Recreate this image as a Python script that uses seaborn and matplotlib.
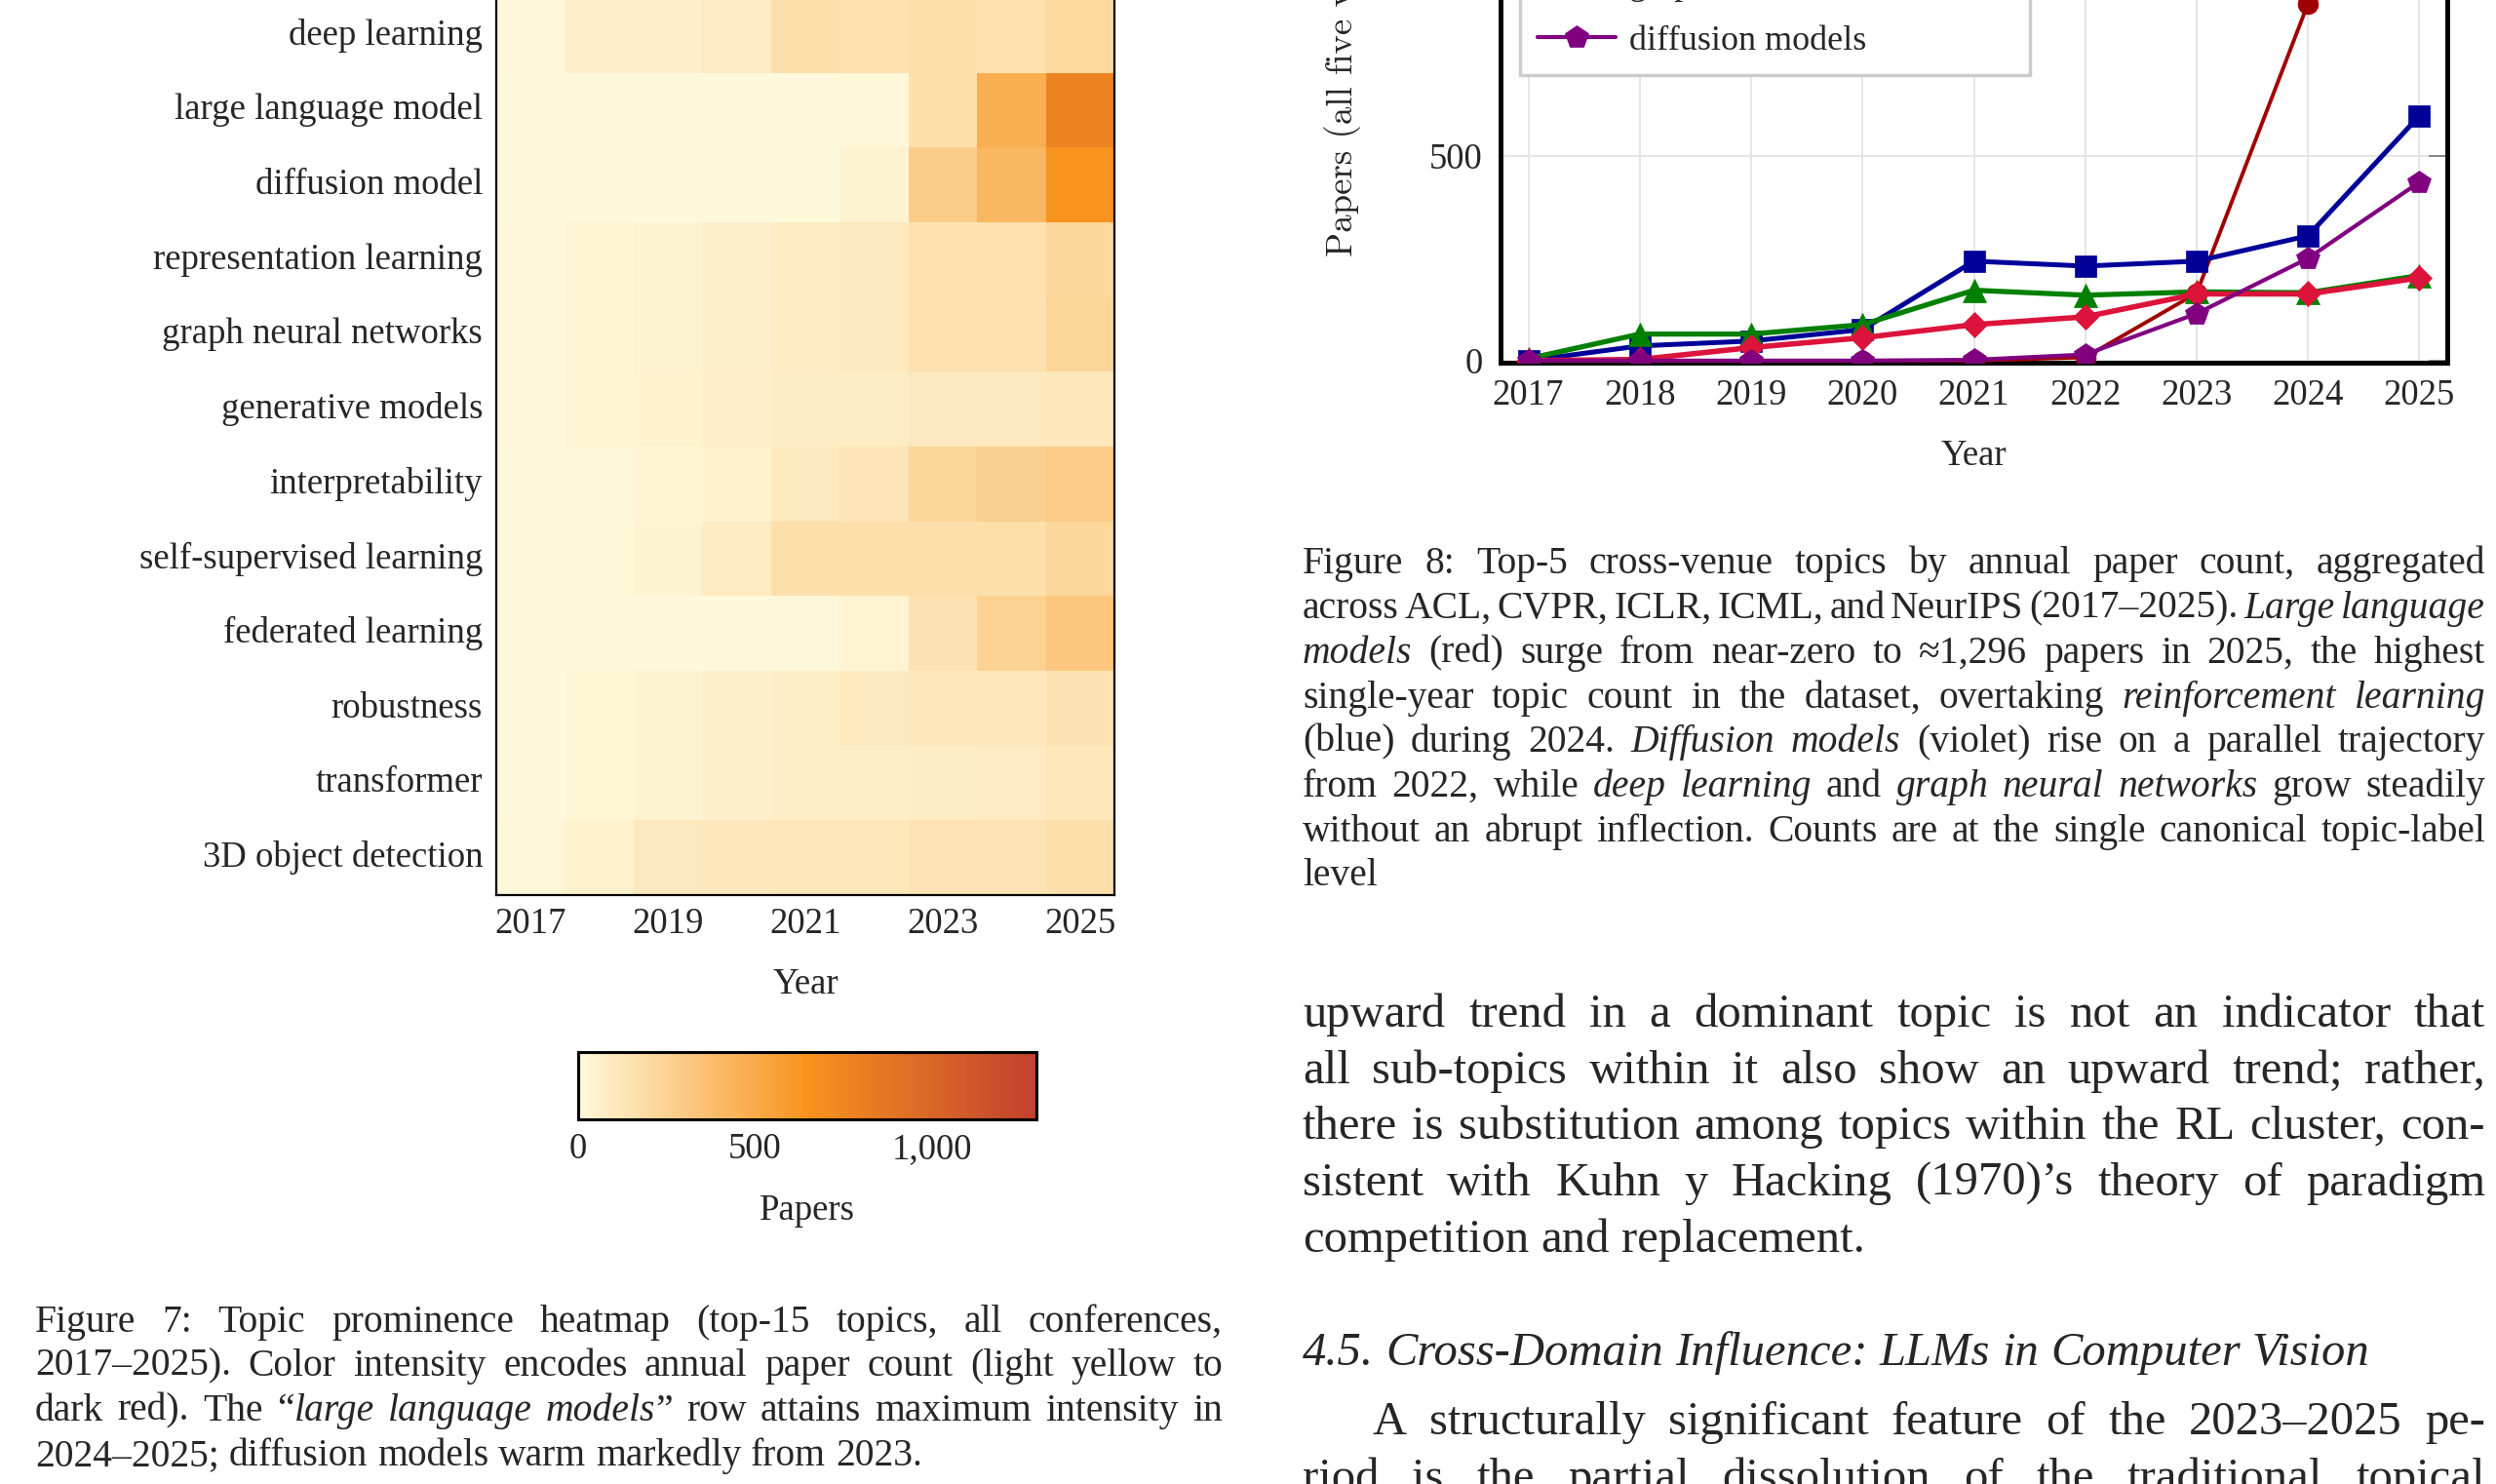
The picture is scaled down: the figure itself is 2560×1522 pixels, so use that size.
import matplotlib
matplotlib.use("Agg")
import numpy as np
import pandas as pd
import matplotlib.pyplot as plt
import seaborn as sns
from matplotlib.colors import LinearSegmentedColormap
from matplotlib.ticker import FuncFormatter

# ---------------- data ----------------
years = list(range(2017, 2026))

topics = ["deep learning", "large language model", "diffusion model",
          "representation learning", "graph neural networks", "generative models",
          "interpretability", "self-supervised learning", "federated learning",
          "robustness", "transformer", "3D object detection"]

hm_deep_learning = [8, 65, 65, 88, 172, 160, 168, 160, 210]
hm_large_language_model = [2, 2, 2, 3, 5, 20, 170, 480, 770]
hm_diffusion_model = [2, 2, 2, 3, 5, 45, 280, 420, 650]
hm_representation_learning = [10, 30, 45, 60, 95, 105, 155, 155, 225]
hm_graph_neural_networks = [8, 30, 45, 60, 95, 105, 155, 155, 232]
hm_generative_models = [8, 30, 50, 65, 85, 85, 105, 105, 120]
hm_interpretability = [5, 20, 28, 50, 105, 130, 230, 260, 290]
hm_self_supervised = [5, 18, 45, 95, 165, 165, 170, 165, 225]
hm_federated_learning = [5, 5, 8, 10, 15, 40, 150, 255, 320]
hm_robustness = [5, 25, 45, 60, 75, 105, 118, 118, 150]
hm_transformer = [5, 25, 45, 60, 75, 75, 85, 90, 115]
hm_3d_object_detection = [20, 55, 105, 120, 125, 125, 140, 140, 170]

cbar_ticks = [0, 500, 1000]

ln_llm = [0, 0, 0, 0, 0, 8, 165, 872, 1296]
ln_rl = [0, 36, 48, 76, 243, 231, 243, 305, 598]
ln_dl = [5, 65, 65, 88, 172, 160, 168, 166, 208]
ln_gnn = [0, 3, 32, 56, 88, 107, 163, 163, 202]
ln_diff = [0, 0, 0, 0, 2, 15, 115, 250, 436]
ln_yticks = [0, 500, 1000]

caption7 = [
    "Figure 7:  Topic prominence heatmap (top-15 topics, all conferences,",
    "2017–2025). Color intensity encodes annual paper count (light yellow to",
    "dark red). The “*large language models*” row attains maximum intensity in",
    "2024–2025; diffusion models warm markedly from 2023.",
]
caption8 = [
    "Figure 8:  Top-5 cross-venue topics by annual paper count, aggregated",
    "across ACL, CVPR, ICLR, ICML, and NeurIPS (2017–2025). *Large language*",
    "*models* (red) surge from near-zero to ≈1,296 papers in 2025, the highest",
    "single-year topic count in the dataset, overtaking *reinforcement learning*",
    "(blue) during 2024. *Diffusion models* (violet) rise on a parallel trajectory",
    "from 2022, while *deep learning* and *graph neural networks* grow steadily",
    "without an abrupt inflection. Counts are at the single canonical topic-label",
    "level",
]
body = [
    "upward trend in a dominant topic is not an indicator that",
    "all sub-topics within it also show an upward trend; rather,",
    "there is substitution among topics within the RL cluster, con-",
    "sistent with Kuhn y Hacking (1970)’s theory of paradigm",
    "competition and replacement.",
]
heading = "4.5.  Cross-Domain Influence: LLMs in Computer Vision"
para = [
    "A structurally significant feature of the 2023–2025 pe-",
    "riod is the partial dissolution of the traditional topical",
]

# ---------------- style ----------------
sns.set_theme(style="white")
SERIF = ["Liberation Serif", "DejaVu Serif"]
plt.rcParams["font.family"] = SERIF
FS = 26.5

W, H = 2560, 1522
fig = plt.figure(figsize=(W / 100, H / 100), dpi=100)
fig.patch.set_facecolor("white")


def fy(py):
    return 1 - py / H


# ---------------- heatmap ----------------
cmap = LinearSegmentedColormap.from_list(
    "pg", [(0.0, "#FFF9DC"), (0.5, "#F7931E"), (1.0, "#C0412F")])
hm = pd.DataFrame([hm_deep_learning, hm_large_language_model, hm_diffusion_model,
                   hm_representation_learning, hm_graph_neural_networks,
                   hm_generative_models, hm_interpretability, hm_self_supervised,
                   hm_federated_learning, hm_robustness, hm_transformer,
                   hm_3d_object_detection], index=topics, columns=years)

ax_hm = fig.add_axes([509 / W, fy(918), 634 / W, 920 / H])
cax = fig.add_axes([593 / W, fy(1148), 470 / W, 69 / H])
sns.heatmap(hm, ax=ax_hm, cmap=cmap, vmin=0, vmax=1296, cbar_ax=cax,
            cbar_kws={"orientation": "horizontal"}, xticklabels=2,
            yticklabels=True, linewidths=0)
ax_hm.tick_params(axis="both", length=0, labelsize=FS)
ax_hm.tick_params(axis="x", pad=9)
ax_hm.tick_params(axis="y", pad=10)
plt.setp(ax_hm.get_xticklabels(), rotation=0)
plt.setp(ax_hm.get_yticklabels(), rotation=0)
ax_hm.set_xlabel("Year", fontsize=FS, labelpad=20)
ax_hm.set_ylabel("")
for s in ax_hm.spines.values():
    s.set_visible(True)
    s.set_linewidth(1.6)
    s.set_color("black")

cbar = ax_hm.collections[0].colorbar
cbar.set_ticks(cbar_ticks)
cax.xaxis.set_major_formatter(FuncFormatter(lambda v, p: f"{int(v):,}"))
cax.tick_params(length=0, pad=10, labelsize=FS)
cbar.outline.set_linewidth(2.2)
cbar.outline.set_edgecolor("black")
cbar.set_label("Papers", fontsize=FS, labelpad=20)

# ---------------- line chart ----------------
ax_ln = fig.add_axes([1539 / W, fy(372), 971 / W, (372 + 218) / H])
series = [
    ("large language models", ln_llm, "#A00000", "o", 2.8, 15),
    ("reinforcement learning", ln_rl, "#000099", "s", 3.6, 16),
    ("deep learning", ln_dl, "#008000", "^", 3.8, 17),
    ("graph neural networks", ln_gnn, "#DC143C", "D", 4.0, 13.5),
    ("diffusion models", ln_diff, "#800080", "p", 3.0, 18),
]
draw_order = [2, 1, 0, 3, 4]
handles = {}
for i in draw_order:
    name, vals, col, mk, lw, ms = series[i]
    n0 = len(ax_ln.get_lines())
    sns.lineplot(x=years, y=vals, ax=ax_ln, color=col, marker=mk, lw=lw,
                 ms=ms, mec=col, mew=0.5, zorder=3 + i)
    handles[name] = ax_ln.get_lines()[n0]

ax_ln.set_xlim(2016.75, 2025.25)
ax_ln.set_ylim(-5, 1400)
ax_ln.set_xticks(years)
ax_ln.set_yticks(ln_yticks)
ax_ln.set_yticklabels([str(v) for v in ln_yticks])
ax_ln.grid(True, color="#E3E3E3", lw=1.3)
ax_ln.set_axisbelow(True)
ax_ln.tick_params(direction="in", length=14, width=1.3, color="#808080",
                  top=True, right=True, labelsize=FS)
ax_ln.tick_params(axis="x", pad=12)
ax_ln.tick_params(axis="y", pad=13)
for s in ax_ln.spines.values():
    s.set_visible(True)
    s.set_linewidth(3.5)
    s.set_color("black")
ax_ln.set_xlabel("Year", fontsize=FS, labelpad=20)
ax_ln.set_ylabel("")
fig.text(1378 / W, fy(263), "Papers (all five venues)", rotation=90,
         ha="center", va="bottom", fontsize=26.5, family="cmr10")

leg = ax_ln.legend([handles[s[0]] for s in series], [s[0] for s in series],
                   loc="lower left", bbox_to_anchor=(1559 / W, fy(77), 523 / W, 0.01),
                   bbox_transform=fig.transFigure, mode="expand", borderaxespad=0,
                   frameon=True, fancybox=False, edgecolor="#CCCCCC",
                   facecolor="white", framealpha=1, fontsize=26, handlelength=2.2,
                   handletextpad=0.4, borderpad=0.5, labelspacing=0.65)
leg.get_frame().set_linewidth(2.5)

# ---------------- page text ----------------
renderer = fig.canvas.get_renderer()


def parse(line):
    words, cur, seg, ital = [], [], "", False
    for ch in line:
        if ch == "*":
            if seg:
                cur.append((seg, ital))
                seg = ""
            ital = not ital
        elif ch == " ":
            if seg:
                cur.append((seg, ital))
                seg = ""
            if cur:
                words.append(cur)
                cur = []
        else:
            seg += ch
    if seg:
        cur.append((seg, ital))
    if cur:
        words.append(cur)
    return words


def put_line(line, x0, x1, yc, size, justify=True, allital=False):
    words = parse(line)
    while True:
        em = size * 100 / 72
        base = fy(yc + 0.30 * em)
        objs = []
        total = 0
        for w in words:
            wo = []
            ww = 0
            for seg, it in w:
                t = fig.text(0, base, seg, fontsize=size, family=SERIF,
                             style="italic" if (it or allital) else "normal",
                             ha="left", va="baseline")
                wd = t.get_window_extent(renderer).width
                wo.append((t, wd))
                ww += wd
            objs.append((wo, ww))
            total += ww
        probe1 = fig.text(0, 0, "a a", fontsize=size, family=SERIF)
        probe2 = fig.text(0, 0, "aa", fontsize=size, family=SERIF)
        sp = (probe1.get_window_extent(renderer).width
              - probe2.get_window_extent(renderer).width)
        probe1.remove()
        probe2.remove()
        if justify and len(objs) > 1:
            gap = (x1 - x0 - total) / (len(objs) - 1)
        else:
            gap = sp
        if gap < 0.6 * sp and size > 20:
            for wo, _ in objs:
                for t, _ in wo:
                    t.remove()
            size -= 0.5
            continue
        break
    x = x0
    for wo, ww in objs:
        for t, wd in wo:
            t.set_x(x / W)
            x += wd
        x += gap


CAP = 28.5
for i, (line, yc) in enumerate(zip(caption7, [1354, 1399, 1445, 1491])):
    put_line(line, 36, 1254, yc, CAP, justify=(i < len(caption7) - 1))
cap8_y = [576, 622, 668, 714, 759, 805, 851, 896]
for i, (line, yc) in enumerate(zip(caption8, cap8_y)):
    put_line(line, 1336, 2549, yc, CAP, justify=(i < len(caption8) - 1))

BODY = 35
for i, (line, yc) in enumerate(zip(body, [1038, 1096, 1153, 1211, 1269])):
    put_line(line, 1336, 2549, yc, BODY, justify=(i < len(body) - 1))
put_line(heading, 1336, 2461, 1385, BODY, justify=False, allital=True)
put_line(para[0], 1407, 2549, 1456, BODY, justify=True)
put_line(para[1], 1336, 2549, 1514, BODY, justify=True)

fig.savefig("out.png", dpi=100)
